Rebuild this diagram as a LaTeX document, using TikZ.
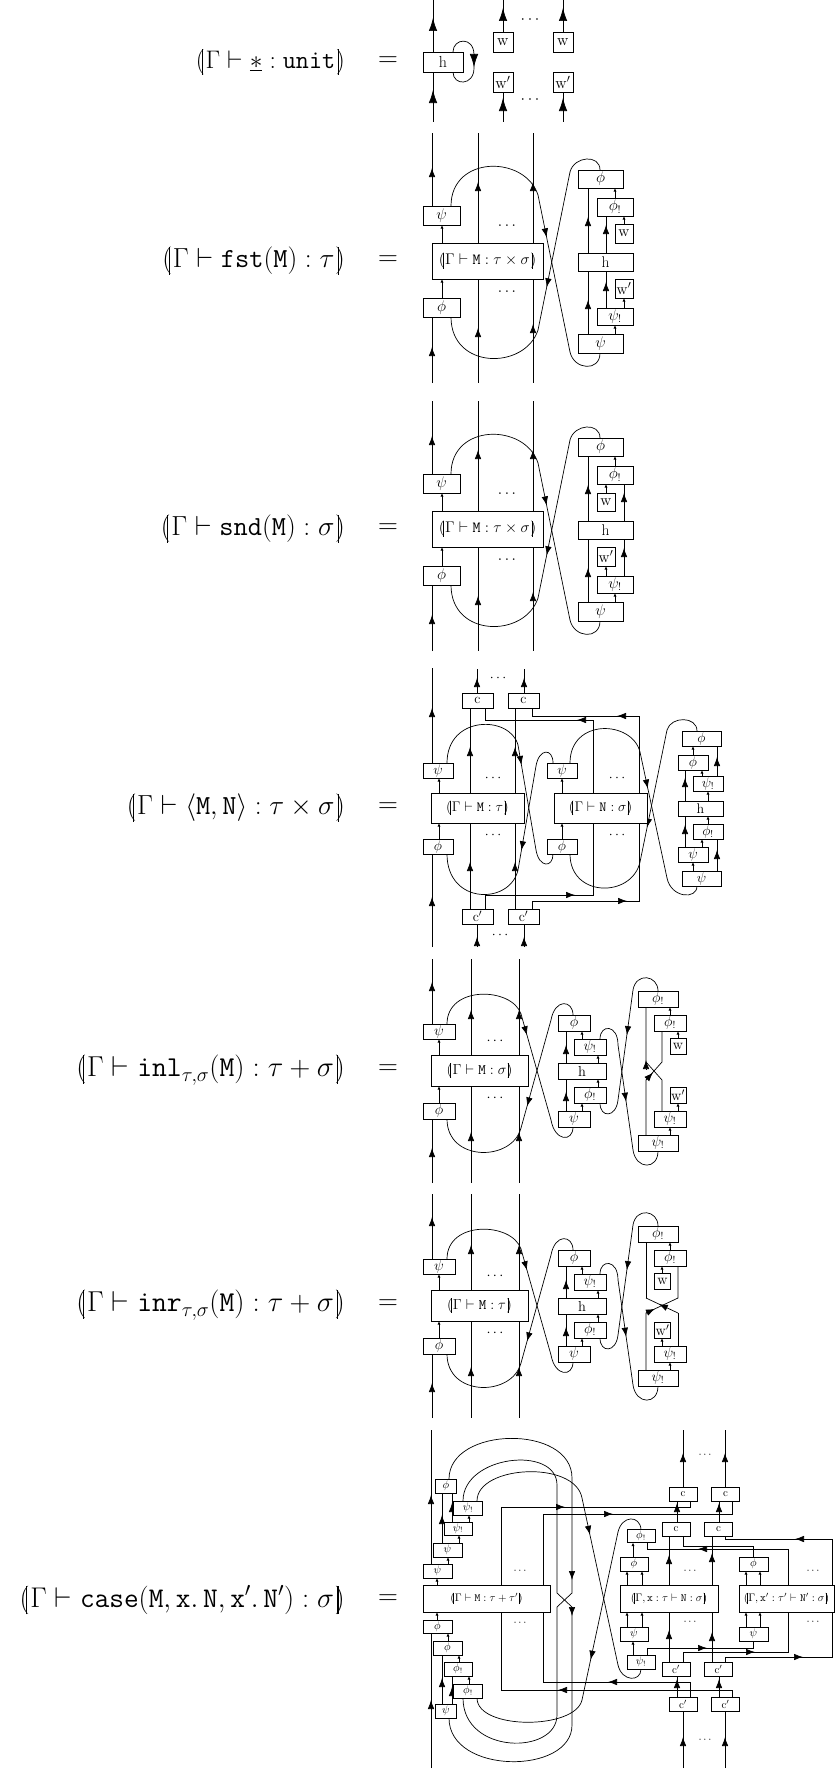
\RequirePackage{fix-cm}
\documentclass[tikz,border=0pt]{standalone}
\usetikzlibrary{arrows.meta,decorations.markings}
\pgfdeclarelayer{bg}
\pgfsetlayers{bg,main}
\newcommand{\semrule}{\vrule height .75em depth .25em width .04em}
\newcommand{\sem}[1]{\mathopen{(\mkern-2.4mu\semrule\mkern2.1mu}#1\mathclose{\mkern2.1mu\semrule\mkern-2.4mu)}}
\newcommand{\bxn}[6]{\node[bx, minimum width=#4pt, minimum height=#5pt] (#1) at (#2,#3) {#6};}
\newcommand{\tipup}[2]{\draw[wire,-{Bg}] (#1,{#2+9}) -- (#1,#2);}
\newcommand{\tipdn}[2]{\draw[wire,-{Bg}] (#1,{#2-9}) -- (#1,#2);}
\newcommand{\tipl}[2]{\draw[wire,-{Bg}] ({#1+9},#2) -- (#1,#2);}
\newcommand{\tipr}[2]{\draw[wire,-{Bg}] ({#1-9},#2) -- (#1,#2);}
\newcommand{\tipupH}[2]{\draw[wire,-{Hg}] (#1,{#2+13}) -- (#1,#2);}
\newcommand{\tipdnH}[2]{\draw[wire,-{Hg}] (#1,{#2-13}) -- (#1,#2);}
\tikzset{
  Bg/.tip={Latex[length=9pt,width=6.5pt]},
  Hg/.tip={Latex[length=13pt,width=8.5pt]},
  Sm/.tip={Latex[length=3.5pt,width=3pt]},
  wire/.style={line width=0.7pt},
  bx/.style={draw, fill=white, line width=0.7pt, inner sep=0pt, outer sep=0pt},
  sar/.style={-{Sm}},
  ar/.style={postaction={decorate}, decoration={markings, mark=at position #1 with {\arrow{Bg}}}},
  lab/.style={font=\fontsize{#1}{32}\selectfont, inner sep=0pt},
  lab/.default=27.5,
}
% product block (fst / snd)
\newcommand{\prodblock}[1]{%
\bxn{#1psi}{441.5}{215.5}{37}{19}{$\psi$}
\bxn{#1M}{487.5}{261}{111}{36}{$\sem{\Gamma\vdash\mathtt{M}:\tau\times\sigma}$}
\bxn{#1phi}{441.5}{307.5}{37}{19}{$\phi$}
\node (#1d1) at (507,226) {$\cdots$};
\node (#1d2) at (507,292) {$\cdots$};
\bxn{#1Rphi}{600.5}{179}{45}{18}{$\phi$}
\bxn{#1Rphib}{615}{207}{36}{18}{$\phi_!$}
\bxn{#1Rh}{605.5}{262}{55}{18}{h}
\bxn{#1Rpsib}{615}{316.5}{36}{17}{$\psi_!$}
\bxn{#1Rpsi}{600.5}{343.5}{45}{19}{$\psi$}
\begin{pgfonlayer}{bg}
\draw[wire] (432,133) -- (432,0|-#1psi.north); \tipup{432}{168}
\draw[wire] (432,383) -- (432,0|-#1phi.south); \tipup{432}{347}
\draw[wire] (478,133) -- (478,383); \tipup{478}{182} \tipup{478}{328}
\draw[wire] (533,133) -- (533,383); \tipup{533}{182} \tipup{533}{324}
\draw[wire,sar] (442,0|-#1M.north) -- (442,0|-#1psi.south);
\draw[wire,sar] (442,0|-#1phi.north) -- (442,0|-#1M.south);
\draw[wire] (451,0|-#1psi.north) .. controls (451,155) and (525,155) .. (538,195);
\draw[wire,ar=0.27] (538,195) -- (570,352);
\draw[wire] (570,352) .. controls (574,370) and (600,372) .. (600,0|-#1Rpsi.south);
\draw[wire] (600,0|-#1Rphi.north) .. controls (600,154) and (574,156) .. (570,172);
\draw[wire,ar=0.73] (570,172) -- (538,330);
\draw[wire] (538,330) .. controls (525,370) and (451,370) .. (451,0|-#1phi.south);
\draw[wire] (588,0|-#1Rh.north) -- (588,0|-#1Rphi.south); \tipup{588}{217}
\draw[wire] (588,0|-#1Rpsi.north) -- (588,0|-#1Rh.south); \tipup{588}{300}
\draw[wire,sar] (615,0|-#1Rphib.north) -- (615,0|-#1Rphi.south);
\draw[wire,sar] (615,0|-#1Rpsi.north) -- (615,0|-#1Rpsib.south);
\end{pgfonlayer}}
% sum block (inl / inr)
\newcommand{\sumblock}[2]{%
\bxn{#1psi}{439}{1031.5}{32}{15}{$\psi$}
\bxn{#1M}{479.5}{1070.5}{97}{31}{$\sem{\Gamma\vdash\mathtt{M}:#2}$}
\bxn{#1phi}{439}{1111}{32}{16}{$\phi$}
\node (#1d1) at (495,1041) {$\cdots$};
\node (#1d2) at (495,1098) {$\cdots$};
\bxn{#1Cphi}{574}{1023}{32}{16}{$\phi$}
\bxn{#1Cpsib}{590}{1047}{32}{16}{$\psi_!$}
\bxn{#1Ch}{582}{1071}{48}{16}{h}
\bxn{#1Cphib}{590}{1095}{32}{16}{$\phi_!$}
\bxn{#1Cpsi}{574}{1119}{32}{16}{$\psi$}
\bxn{#1Rphib}{658}{999}{40}{16}{$\phi_!$}
\bxn{#1Rphic}{670}{1023}{32}{16}{$\phi_!$}
\bxn{#1Rpsic}{670}{1119}{32}{16}{$\psi_!$}
\bxn{#1Rpsib}{658}{1143}{40}{16}{$\psi_!$}
\begin{pgfonlayer}{bg}
\draw[wire] (432,959) -- (432,0|-#1psi.north); \tipup{432}{982}
\draw[wire] (432,1183) -- (432,0|-#1phi.south); \tipup{432}{1148}
\draw[wire] (471,959) -- (471,1183); \tipup{471}{1010} \tipup{471}{1132}
\draw[wire] (519,959) -- (519,1183); \tipup{519}{1010} \tipup{519}{1132}
\draw[wire,sar] (439,0|-#1M.north) -- (439,0|-#1psi.south);
\draw[wire,sar] (439,0|-#1phi.north) -- (439,0|-#1M.south);
\draw[wire] (447,0|-#1psi.north) .. controls (447,985) and (512,987) .. (521,1014);
\draw[wire,ar=0.2] (521,1014) -- (551,1120);
\draw[wire] (551,1120) .. controls (555,1142) and (573,1142) .. (573,0|-#1Cpsi.south);
\draw[wire] (573,0|-#1Cphi.north) .. controls (573,1000) and (555,998) .. (551,1020);
\draw[wire,ar=0.8] (551,1020) -- (521,1128);
\draw[wire] (521,1128) .. controls (512,1162) and (447,1162) .. (447,0|-#1phi.south);
\draw[wire] (566,0|-#1Ch.north) -- (566,0|-#1Cphi.south); \tipup{566}{1045}
\draw[wire] (566,0|-#1Cpsi.north) -- (566,0|-#1Ch.south); \tipup{566}{1092}
\draw[wire,sar] (582,0|-#1Cpsib.north) -- (582,0|-#1Cphi.south);
\draw[wire,sar] (582,0|-#1Cpsi.north) -- (582,0|-#1Cphib.south);
\draw[wire,sar] (598,0|-#1Ch.north) -- (598,0|-#1Cpsib.south);
\draw[wire,sar] (598,0|-#1Cphib.north) -- (598,0|-#1Ch.south);
\draw[wire] (600,0|-#1Cpsib.north) .. controls (600,1024) and (618,1024) .. (618,1045);
\draw[wire,ar=0.54] (618,1045) -- (633,1150);
\draw[wire] (633,1150) .. controls (636,1170) and (658,1170) .. (658,0|-#1Rpsib.south);
\draw[wire] (658,0|-#1Rphib.north) .. controls (658,975) and (636,972) .. (633,990);
\draw[wire,ar=0.41] (633,990) -- (618,1100);
\draw[wire] (618,1100) .. controls (616,1118) and (600,1118) .. (600,0|-#1Cphib.south);
\draw[wire,sar] (670,0|-#1Rphic.north) -- (670,0|-#1Rphib.south);
\draw[wire,sar] (670,0|-#1Rpsib.north) -- (670,0|-#1Rpsic.south);
\end{pgfonlayer}}
\begin{document}
\begin{tikzpicture}[x=1pt,y=-1pt]
\useasboundingbox (0,0) rectangle (835,1769);
% ---------- labels ----------
\node[lab=25.4,anchor=east] (L1) at (345,62) {$\sem{\Gamma\vdash\underline{\ast}:\mathtt{unit}}$};
\node[lab] (E1) at (388,62) {$=$};
\node[lab=27.6,anchor=east] (L2) at (345,261) {$\sem{\Gamma\vdash\mathtt{fst}(\mathtt{M}):\tau}$};
\node[lab] (E2) at (388,261) {$=$};
\node[lab=27.6,anchor=east] (L3) at (345,529) {$\sem{\Gamma\vdash\mathtt{snd}(\mathtt{M}):\sigma}$};
\node[lab] (E3) at (388,529) {$=$};
\node[lab=27.6,anchor=east] (L4) at (345,808) {$\sem{\Gamma\vdash\langle\mathtt{M},\mathtt{N}\rangle:\tau\times\sigma}$};
\node[lab] (E4) at (388,808) {$=$};
\node[lab=28.8,anchor=east] (L5) at (345,1070) {$\sem{\Gamma\vdash\mathtt{inl}_{\tau,\sigma}(\mathtt{M}):\tau+\sigma}$};
\node[lab] (E5) at (388,1070) {$=$};
\node[lab=28.8,anchor=east] (L6) at (345,1305) {$\sem{\Gamma\vdash\mathtt{inr}_{\tau,\sigma}(\mathtt{M}):\tau+\sigma}$};
\node[lab] (E6) at (388,1305) {$=$};
\node[lab=28.5,anchor=east] (L7) at (345,1600) {$\sem{\Gamma\vdash\mathtt{case}(\mathtt{M},\mathtt{x}.\,\mathtt{N},\mathtt{x}'.\,\mathtt{N}'):\sigma}$};
\node[lab] (E7) at (388,1600) {$=$};
% ---------- unit ----------
\begin{scope}[font=\fontsize{16}{19}\selectfont]
\bxn{uh}{443}{62}{40}{20}{h}
\bxn{uw1}{503}{42}{20}{20}{$\mathrm{w}$}
\bxn{uw2}{563}{42}{20}{20}{$\mathrm{w}$}
\bxn{uv1}{503}{82}{20}{20}{$\mathrm{w}'$}
\bxn{uv2}{563}{82}{20}{20}{$\mathrm{w}'$}
\node (ud1) at (530,20) {$\cdots$};
\node (ud2) at (530,100) {$\cdots$};
\begin{pgfonlayer}{bg}
\draw[wire] (433,0) -- (433,122); \tipupH{433}{18} \tipupH{433}{90}
\draw[wire] (453,0|-uh.north) .. controls (453,38) and (474,36) .. (474,55) -- (474,68) .. controls (474,86) and (453,86) .. (453,0|-uh.south);
\tipdnH{474}{67}
\draw[wire] (uw1.north) -- (503,0); \tipupH{503}{8}
\draw[wire] (uw2.north) -- (563,0); \tipupH{563}{8}
\draw[wire] (uv1.south) -- (503,122); \tipupH{503}{98}
\draw[wire] (uv2.south) -- (563,122); \tipupH{563}{98}
\end{pgfonlayer}
\end{scope}
% ---------- fst ----------
\begin{scope}[font=\fontsize{15.5}{18}\selectfont]
\prodblock{f}
\bxn{fRw}{624}{233.5}{18}{19}{$\mathrm{w}$}
\bxn{fRv}{624}{288.5}{18}{19}{$\mathrm{w}'$}
\begin{pgfonlayer}{bg}
\draw[wire] (606,0|-fRh.north) -- (606,0|-fRphib.south); \tipup{606}{225}
\draw[wire] (606,0|-fRpsib.north) -- (606,0|-fRh.south); \tipup{606}{282}
\draw[wire,sar] (624,0|-fRw.north) -- (624,0|-fRphib.south);
\draw[wire,sar] (624,0|-fRpsib.north) -- (624,0|-fRv.south);
\end{pgfonlayer}
\end{scope}
% ---------- snd ----------
\begin{scope}[yshift=-268pt,font=\fontsize{15.5}{18}\selectfont]
\prodblock{s}
\bxn{sRw}{606}{234}{18}{18}{$\mathrm{w}$}
\bxn{sRv}{606}{288.5}{18}{19}{$\mathrm{w}'$}
\begin{pgfonlayer}{bg}
\draw[wire] (624,0|-sRh.north) -- (624,0|-sRphib.south); \tipup{624}{225}
\draw[wire] (624,0|-sRpsib.north) -- (624,0|-sRh.south); \tipup{624}{280}
\draw[wire,sar] (606,0|-sRw.north) -- (606,0|-sRphib.south);
\draw[wire,sar] (606,0|-sRpsib.north) -- (606,0|-sRv.south);
\end{pgfonlayer}
\end{scope}
% ---------- pair ----------
\begin{scope}[font=\fontsize{14}{16}\selectfont]
\bxn{pPsi}{438}{770.5}{30}{15}{$\psi$}
\bxn{pM}{477.5}{808}{93}{30}{$\sem{\Gamma\vdash\mathtt{M}:\tau}$}
\bxn{pPhi}{438}{846.5}{30}{15}{$\phi$}
\bxn{pc1}{477.5}{700.5}{31}{15}{$\mathrm{c}$}
\bxn{pc2}{523.5}{700.5}{31}{15}{$\mathrm{c}$}
\bxn{pd1}{477.5}{916.5}{31}{15}{$\mathrm{c}'$}
\bxn{pd2}{523.5}{916.5}{31}{15}{$\mathrm{c}'$}
\bxn{pNpsi}{562}{770.5}{30}{15}{$\psi$}
\bxn{pN}{600.5}{808}{93}{30}{$\sem{\Gamma\vdash\mathtt{N}:\sigma}$}
\bxn{pNphi}{562}{846.5}{30}{15}{$\phi$}
\bxn{pRphi}{701.5}{738.5}{39}{15}{$\phi$}
\bxn{pRphi2}{693}{762.5}{30}{15}{$\phi$}
\bxn{pRpsib}{708}{783.5}{30}{15}{$\psi_!$}
\bxn{pRh}{700.5}{808.5}{45}{15}{h}
\bxn{pRphib}{708}{831.5}{30}{15}{$\phi_!$}
\bxn{pRpsi2}{693}{854.5}{30}{15}{$\psi$}
\bxn{pRpsi}{701.5}{878.5}{39}{15}{$\psi$}
\node (pdt) at (498,678) {$\cdots$};
\node (pdb) at (500,935) {$\cdots$};
\node (pdm1) at (493,778) {$\cdots$};
\node (pdm2) at (493,835) {$\cdots$};
\node (pdn1) at (617,778) {$\cdots$};
\node (pdn2) at (617,835) {$\cdots$};
\begin{pgfonlayer}{bg}
\draw[wire] (432,668) -- (432,0|-pPsi.north); \tipup{432}{708}
\draw[wire] (432,947) -- (432,0|-pPhi.south); \tipup{432}{897}
\draw[wire,sar] (439,0|-pM.north) -- (439,0|-pPsi.south);
\draw[wire,sar] (439,0|-pPhi.north) -- (439,0|-pM.south);
\draw[wire,sar] (562,0|-pN.north) -- (562,0|-pNpsi.south);
\draw[wire,sar] (562,0|-pNphi.north) -- (562,0|-pN.south);
\draw[wire] (477,0|-pc1.north) -- (477,669); \tipup{477}{678}
\draw[wire] (524,0|-pc2.north) -- (524,669); \tipup{524}{678}
\draw[wire] (477,947) -- (477,0|-pd1.south); \tipup{477}{937}
\draw[wire] (524,947) -- (524,0|-pd2.south); \tipup{524}{937}
\draw[wire] (470,0|-pd1.north) -- (470,0|-pc1.south); \tipup{470}{747} \tipup{470}{862}
\draw[wire] (515,0|-pd2.north) -- (515,0|-pc2.south); \tipup{515}{747} \tipup{515}{862}
\draw[wire] (485,0|-pd1.north) -- (485,895) -- (593,895) -- (593,720) -- (485,720) -- (485,0|-pc1.south);
\tipr{575}{895} \tipl{577}{720}
\draw[wire] (532,0|-pd2.north) -- (532,901) -- (639,901) -- (639,716) -- (532,716) -- (532,0|-pc2.south);
\tipr{627}{901} \tipl{617}{716}
\draw[wire] (447,0|-pPsi.north) .. controls (447,715) and (510,715) .. (518,745);
\draw[wire,ar=0.19] (518,745) -- (536,850);
\draw[wire] (536,850) .. controls (539,868) and (553,868) .. (553,0|-pNphi.south);
\draw[wire] (553,0|-pNpsi.north) .. controls (553,748) and (539,748) .. (536,766);
\draw[wire,ar=0.81] (536,766) -- (518,870);
\draw[wire] (518,870) .. controls (510,905) and (447,905) .. (447,0|-pPhi.south);
\draw[wire] (570,0|-pNpsi.north) .. controls (570,718) and (632,720) .. (640,752);
\draw[wire,ar=0.29] (640,752) -- (667,878);
\draw[wire] (667,878) .. controls (671,898) and (697,900) .. (697,0|-pRpsi.south);
\draw[wire] (697,0|-pRphi.north) .. controls (697,716) and (671,716) .. (667,730);
\draw[wire,ar=0.74] (667,730) -- (640,862);
\draw[wire] (640,862) .. controls (632,898) and (570,898) .. (570,0|-pNphi.south);
\draw[wire] (685,0|-pRh.north) -- (685,0|-pRphi2.south); \tipup{685}{778}
\draw[wire] (685,0|-pRpsi2.north) -- (685,0|-pRh.south); \tipup{685}{825}
\draw[wire] (717,0|-pRpsib.north) -- (717,0|-pRphi.south); \tipup{717}{757}
\draw[wire] (717,0|-pRpsi.north) -- (717,0|-pRphib.south); \tipup{717}{850}
\draw[wire,sar] (693,0|-pRphi2.north) -- (693,0|-pRphi.south);
\draw[wire,sar] (693,0|-pRpsi.north) -- (693,0|-pRpsi2.south);
\draw[wire,sar] (702,0|-pRpsib.north) -- (702,0|-pRphi2.south);
\draw[wire,sar] (702,0|-pRpsi2.north) -- (702,0|-pRphib.south);
\draw[wire,sar] (708,0|-pRh.north) -- (708,0|-pRpsib.south);
\draw[wire,sar] (708,0|-pRphib.north) -- (708,0|-pRh.south);
\end{pgfonlayer}
\end{scope}
% ---------- inl ----------
\begin{scope}[font=\fontsize{14.5}{17}\selectfont]
\sumblock{l}{\sigma}
\bxn{lRw}{678}{1046}{16}{16}{$\mathrm{w}$}
\bxn{lRv}{678}{1095}{16}{16}{$\mathrm{w}'$}
\begin{pgfonlayer}{bg}
\draw[wire,sar] (678,0|-lRw.north) -- (678,0|-lRphic.south);
\draw[wire,sar] (678,0|-lRpsic.north) -- (678,0|-lRv.south);
\draw[wire] (646,0|-lRpsib.north) -- (646,1080) -- (662,1062) -- (662,0|-lRphic.south);
\draw[wire] (662,0|-lRpsic.north) -- (662,1080) -- (646,1062) -- (646,0|-lRphib.south);
\tipup{646}{1060}
\draw[wire,-{Bg}] (646,1080) -- (653,1072.5);
\end{pgfonlayer}
\end{scope}
% ---------- inr ----------
\begin{scope}[yshift=-235pt,font=\fontsize{14.5}{17}\selectfont]
\sumblock{r}{\tau}
\bxn{rRw}{662.5}{1046}{16}{16}{$\mathrm{w}$}
\bxn{rRv}{662.5}{1095}{16}{16}{$\mathrm{w}'$}
\begin{pgfonlayer}{bg}
\draw[wire,sar] (662,0|-rRw.north) -- (662,0|-rRphic.south);
\draw[wire,sar] (662,0|-rRpsic.north) -- (662,0|-rRv.south);
\draw[wire] (646,0|-rRpsib.north) -- (646,1078) -- (678,1063) -- (678,0|-rRphic.south);
\draw[wire] (678,0|-rRpsic.north) -- (678,1078);
\draw[wire,ar=0.6] (678,1078) -- (646,1063);
\draw[wire] (646,1063) -- (646,0|-rRphib.south);
\draw[wire,-{Bg}] (646,1078) -- (655,1073.8);
\end{pgfonlayer}
\end{scope}
% ---------- case ----------
\begin{scope}[font=\fontsize{11}{13}\selectfont]
\bxn{kphiA}{446}{1486}{21}{14}{$\phi$}
\bxn{kpsibA}{468}{1508}{29}{14}{$\psi_!$}
\bxn{kpsibB}{458}{1528.5}{28}{13}{$\psi_!$}
\bxn{kpsiC}{447.5}{1550}{29}{14}{$\psi$}
\bxn{kpsiD}{437.5}{1571}{29}{14}{$\psi$}
\bxn{kM}{486.5}{1598.5}{127}{27}{$\sem{\Gamma\vdash\mathtt{M}:\tau+\tau'}$}
\bxn{kphiD}{437.5}{1626.5}{29}{13}{$\phi$}
\bxn{kphiC}{447.5}{1648}{29}{14}{$\phi$}
\bxn{kphibB}{458}{1669}{28}{14}{$\phi_!$}
\bxn{kphibA}{468}{1691}{29}{14}{$\phi_!$}
\bxn{kpsiA}{446}{1711}{21}{14}{$\psi$}
\node (kdm1) at (520,1571) {$\cdots$};
\node (kdm2) at (520,1623) {$\cdots$};
\bxn{kNphib}{641}{1536}{28}{13}{$\phi_!$}
\bxn{kNphi}{634}{1564}{28}{14}{$\phi$}
\bxn{kN}{669}{1598.5}{98}{27}{$\sem{\Gamma,\mathtt{x}:\tau\vdash\mathtt{N}:\sigma}$}
\bxn{kNpsi}{634}{1634}{28}{14}{$\psi$}
\bxn{kNpsib}{641}{1662}{28}{14}{$\psi_!$}
\bxn{kPphi}{753.5}{1564}{29}{14}{$\phi$}
\bxn{kP}{786.5}{1598.5}{95}{27}{$\sem{\Gamma,\mathtt{x}':\tau'\vdash\mathtt{N}':\sigma}$}
\bxn{kPpsi}{753.5}{1634}{29}{14}{$\psi$}
\bxn{kc1}{683}{1494}{28}{14}{$\mathrm{c}$}
\bxn{kc2}{725.5}{1494}{28}{14}{$\mathrm{c}$}
\bxn{kc3}{676}{1529}{28}{14}{$\mathrm{c}$}
\bxn{kc4}{718.5}{1529}{28}{14}{$\mathrm{c}$}
\bxn{ke3}{676}{1669}{28}{14}{$\mathrm{c}'$}
\bxn{ke4}{718.5}{1669}{28}{14}{$\mathrm{c}'$}
\bxn{ke1}{683}{1704}{28}{14}{$\mathrm{c}'$}
\bxn{ke2}{725.5}{1704}{28}{14}{$\mathrm{c}'$}
\node (kdt) at (705,1455) {$\cdots$};
\node (kdb) at (705,1740) {$\cdots$};
\node (kdn1) at (690,1571) {$\cdots$};
\node (kdn2) at (690,1622) {$\cdots$};
\node (kdp1) at (813,1571) {$\cdots$};
\node (kdp2) at (813,1622) {$\cdots$};
\begin{pgfonlayer}{bg}
\draw[wire] (431,1430) -- (431,0|-kpsiD.north); \tipup{431}{1495}
\draw[wire] (431,1768) -- (431,0|-kphiD.south); \tipup{431}{1700}
\draw[wire,sar] (437,0|-kM.north) -- (437,0|-kpsiD.south);
\draw[wire,sar] (448,0|-kpsiD.north) -- (448,0|-kpsiC.south);
\draw[wire,sar] (459,0|-kpsiC.north) -- (459,0|-kpsibB.south);
\draw[wire,sar] (469,0|-kpsibB.north) -- (469,0|-kpsibA.south);
\draw[wire,sar] (437,0|-kphiD.north) -- (437,0|-kM.south);
\draw[wire,sar] (448,0|-kphiC.north) -- (448,0|-kphiD.south);
\draw[wire,sar] (459,0|-kphibB.north) -- (459,0|-kphiC.south);
\draw[wire,sar] (469,0|-kphibA.north) -- (469,0|-kphibB.south);
\draw[wire] (442,0|-kpsiC.north) -- (442,0|-kphiA.south); \tipup{442}{1515}
\draw[wire] (452,0|-kpsibB.north) -- (452,0|-kphiA.south); \tipup{452}{1503}
\draw[wire] (442,0|-kpsiA.north) -- (442,0|-kphiC.south); \tipup{442}{1678}
\draw[wire] (452,0|-kpsiA.north) -- (452,0|-kphibB.south); \tipup{452}{1687}
% arcs around M
\draw[wire] (449,0|-kphiA.north) .. controls (449,1426) and (572,1424) .. (572,1478) -- (572,1593) -- (557,1607) -- (557,1715) .. controls (557,1755) and (463,1755) .. (463,0|-kphibA.south);
\draw[wire] (463,0|-kpsibA.north) .. controls (463,1455) and (557,1445) .. (557,1485) -- (557,1593) -- (572,1607) -- (572,1725) .. controls (572,1775) and (449,1775) .. (449,0|-kpsiA.south);
\tipdn{572}{1580} \tipdn{572}{1616}
\draw[wire] (477,0|-kpsibA.north) .. controls (477,1465) and (575,1460) .. (582,1498);
\draw[wire,ar=0.22] (582,1498) -- (618,1665);
\draw[wire] (618,1665) .. controls (622,1682) and (641,1682) .. (641,0|-kNpsib.south);
\draw[wire] (641,0|-kNphib.north) .. controls (640,1515) and (622,1515) .. (618,1532);
\draw[wire,ar=0.76] (618,1532) -- (582,1700);
\draw[wire] (582,1700) .. controls (575,1730) and (477,1730) .. (477,0|-kphibA.south);
% c loops
\draw[wire] (690,0|-kc1.south) -- (690,1507) -- (501,1507) -- (501,1690) -- (732,1690) -- (732,0|-ke2.north);
\tipr{565}{1507} \tipl{558}{1690}
\draw[wire] (732,0|-kc2.south) -- (732,1514) -- (543,1514) -- (543,1682) -- (690,1682) -- (690,0|-ke1.north);
\tipr{613}{1514} \tipl{608}{1682}
\draw[wire] (683,0|-kc1.north) -- (683,1430); \tipup{683}{1453}
\draw[wire] (725,0|-kc2.north) -- (725,1430); \tipup{725}{1453}
\draw[wire] (677,0|-kc3.north) -- (677,0|-kc1.south); \tipup{677}{1503}
\draw[wire] (719,0|-kc4.north) -- (719,0|-kc2.south); \tipup{719}{1503}
\draw[wire] (669,0|-ke3.north) -- (669,0|-kc3.south); \tipup{669}{1555} \tipup{669}{1630}
\draw[wire] (712,0|-ke4.north) -- (712,0|-kc4.south); \tipup{712}{1553} \tipup{712}{1632}
\draw[wire] (677,0|-ke1.north) -- (677,0|-ke3.south); \tipup{677}{1679}
\draw[wire] (719,0|-ke2.north) -- (719,0|-ke4.south); \tipup{719}{1679}
\draw[wire] (683,1768) -- (683,0|-ke1.south); \tipup{683}{1737}
\draw[wire] (725,1768) -- (725,0|-ke2.south); \tipup{725}{1737}
\draw[wire,sar] (627,0|-kN.north) -- (627,0|-kNphi.south);
\draw[wire,sar] (642,0|-kN.north) -- (642,0|-kNphi.south);
\draw[wire,sar] (627,0|-kNpsi.north) -- (627,0|-kN.south);
\draw[wire,sar] (642,0|-kNpsi.north) -- (642,0|-kN.south);
\draw[wire,sar] (633,0|-kNphi.north) -- (633,0|-kNphib.south);
\draw[wire,sar] (633,0|-kNpsib.north) -- (633,0|-kNpsi.south);
\draw[wire,sar] (746,0|-kP.north) -- (746,0|-kPphi.south);
\draw[wire,sar] (760,0|-kP.north) -- (760,0|-kPphi.south);
\draw[wire,sar] (746,0|-kPpsi.north) -- (746,0|-kP.south);
\draw[wire,sar] (760,0|-kPpsi.north) -- (760,0|-kP.south);
% right wiring (N / N')
\draw[wire] (683,0|-kc3.south) -- (683,1546) -- (753,1546) -- (753,0|-kPphi.north);
\draw[wire] (647,0|-kNphib.south) -- (647,1549) -- (788,1549) -- (788,1652) -- (683,1652) -- (683,0|-ke3.north);
\tipl{698}{1549} \tipr{755}{1652}
\draw[wire] (725,0|-kc4.south) -- (725,1539) -- (832,1539) -- (832,1657) -- (725,1657) -- (725,0|-ke4.north);
\tipl{795}{1539} \tipr{803}{1657}
\draw[wire] (647,0|-kNpsib.north) -- (647,1648) -- (753,1648) -- (753,0|-kPpsi.south);
\tipr{707}{1648}
\end{pgfonlayer}
\end{scope}
\end{tikzpicture}
\end{document}
